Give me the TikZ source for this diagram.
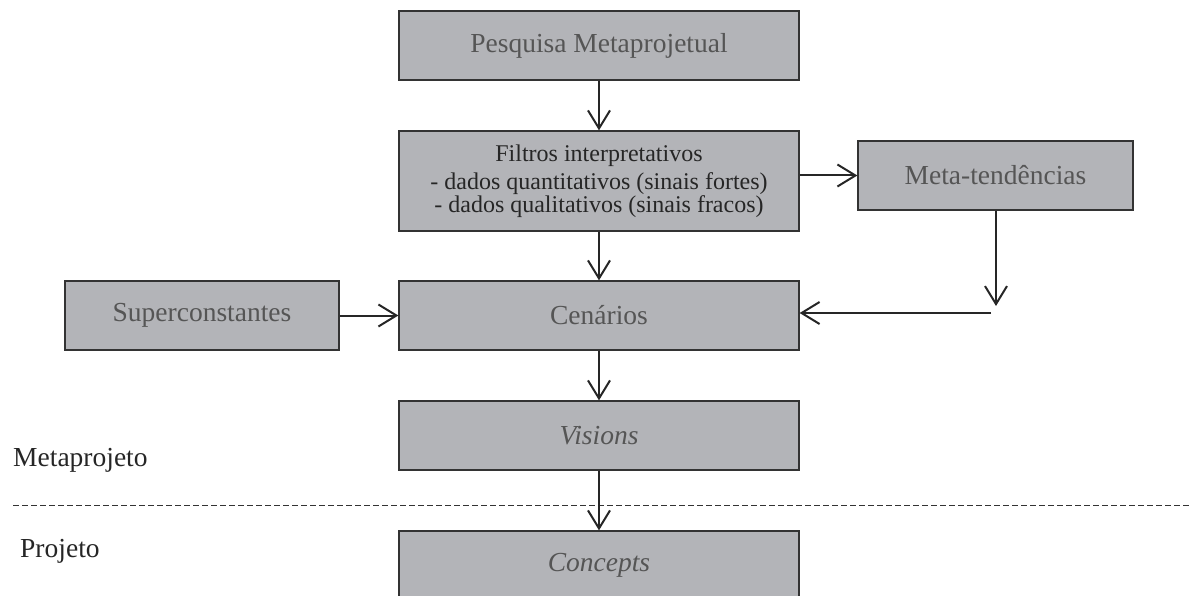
\documentclass[tikz,border=0pt]{standalone}
\usepackage{fontspec}
\setmainfont{Liberation Serif}
\usetikzlibrary{arrows.meta}
\definecolor{boxfill}{HTML}{B3B4B8}
\definecolor{boxline}{HTML}{333333}
\definecolor{boxtext}{HTML}{555555}
\tikzset{
  stagebox/.style={draw=boxline, line width=1.3pt, fill=boxfill, rectangle,
    inner sep=0pt, minimum height=69pt, minimum width=400pt,
    text=boxtext, font=\fontsize{27.5}{30}\selectfont},
  flow/.style={draw=black!85, line width=2pt,
    -{Straight Barb[length=18pt,width=22pt,line width=2pt]}},
  sidelabel/.style={anchor=base west, inner sep=0pt, text=black!85,
    font=\fontsize{27.5}{30}\selectfont}
}
\begin{document}
\begin{tikzpicture}[x=1pt,y=-1pt]
\useasboundingbox (0,0) rectangle (1191,596);

% phase separator
\draw[black!80, line width=1pt, dash pattern=on 6pt off 3pt] (13,505) -- (1191,505);

% boxes
\node[stagebox] (pesq) at (599,45.5) {Pesquisa Metaprojetual};
\node[stagebox, minimum height=100pt, text=black!85, align=center,
      font=\fontsize{24}{23}\selectfont] (filt) at (599,181)
  {Filtros interpretativos\\[5pt]
   - dados quantitativos (sinais fortes)\\
   - dados qualitativos (sinais fracos)};
\node[stagebox, minimum width=275pt] (meta) at (995.5,175.5) {Meta-tendências};
\node[stagebox, minimum width=274pt] (super) at (202,315.5) {Superconstantes};
\node[stagebox] (cen) at (599,315.5) {Cenários};
\node[stagebox] (vis) at (599,435.5) {\itshape Visions};
\node[stagebox] (con) at (599,565.5) {\itshape Concepts};

% phase labels
\node[sidelabel] (metaproj) at (13,466) {Metaprojeto};
\node[sidelabel] (proj) at (20,557) {Projeto};

% free ends of the meta-trend feedback
\coordinate (mdown) at (996,306);
\coordinate (mback) at (991,313);

% connectors
\draw[flow] (pesq.south) -- (filt.north);
\draw[flow] (filt.east |- meta.west) -- (meta.west);
\draw[flow] (filt.south) -- (cen.north);
\draw[flow] (super.east) -- (cen.west);
\draw[flow] (meta.south -| mdown) -- (mdown);
\draw[flow] (mback) -- (mback -| cen.east);
\draw[flow] (cen.south) -- (vis.north);
\draw[flow] (vis.south) -- (con.north);
\end{tikzpicture}
\end{document}
